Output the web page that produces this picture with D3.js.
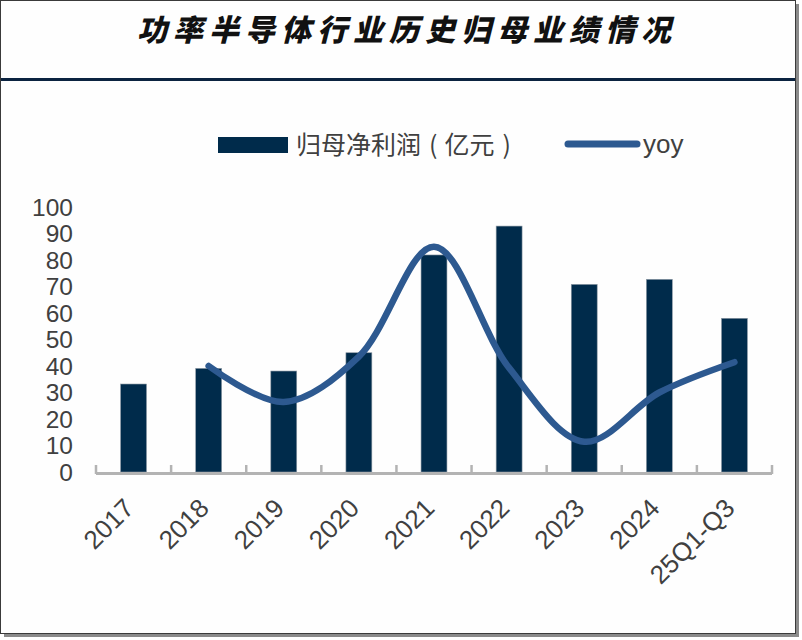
<!DOCTYPE html>
<html>
<head>
<meta charset="utf-8">
<script src="https://cdn.jsdelivr.net/npm/d3@7"></script>
<style>
    body { margin: 0; background: #ffffff; }
    svg { display: block; }
</style>
</head>
<body>
<svg id="chart"></svg>
<script>
// data
const categories = ["2017", "2018", "2019", "2020", "2021", "2022", "2023", "2024", "25Q1-Q3"];
const profit = [33.2, 39.1, 38.1, 45.0, 81.9, 92.8, 70.8, 72.7, 58.0]; // 归母净利润 (亿元)
const yoy = [null, 16, -3, 21, 79, 15, -24, 2, 18]; // yoy %, hidden right axis
const yTicks = [0, 10, 20, 30, 40, 50, 60, 70, 80, 90, 100];

const width = 802, height = 640;
const svg = d3.select("#chart")
    .attr("width", width)
    .attr("height", height);

// frame with a small drop shadow
svg.append("rect")
    .attr("x", 4).attr("y", 4)
    .attr("width", 795).attr("height", 633)
    .attr("fill", "#8a8a8a");
svg.append("rect")
    .attr("x", 0.5).attr("y", 0.5)
    .attr("width", 795).attr("height", 633)
    .attr("fill", "#fefefe")
    .attr("stroke", "#3a3a3a")
    .attr("stroke-width", 1);

// title
svg.append("text")
    .attr("x", 407)
    .attr("y", 41)
    .attr("text-anchor", "middle")
    .attr("font-family", "'Noto Sans CJK SC'")
    .attr("font-weight", "900")
    .attr("font-style", "italic")
    .attr("font-size", 30)
    .attr("letter-spacing", 6)
    .attr("fill", "#111")
    .text("功率半导体行业历史归母业绩情况");

svg.append("line")
    .attr("x1", 1).attr("x2", 795)
    .attr("y1", 79.5).attr("y2", 79.5)
    .attr("stroke", "#0b2340")
    .attr("stroke-width", 3);

// scales
const x = d3.scaleBand()
    .domain(categories)
    .range([96, 772])
    .paddingInner(0.655)
    .paddingOuter(0.3275);

const y = d3.scaleLinear().domain([0, 100]).range([472, 207]);
const y2 = d3.scaleLinear().domain([-40, 100]).range([472, 207]);

const textColor = "#404040";

// y axis labels (no axis line)
svg.append("g")
    .selectAll("text")
    .data(yTicks)
    .enter().append("text")
    .attr("x", 73)
    .attr("y", d => y(d))
    .attr("dy", "0.36em")
    .attr("text-anchor", "end")
    .attr("font-family", "'Liberation Sans', Arial")
    .attr("font-size", 24.5)
    .attr("fill", textColor)
    .text(d => d);

// bars
svg.append("g")
    .selectAll("rect")
    .data(profit)
    .enter().append("rect")
    .attr("x", (d, i) => x(categories[i]))
    .attr("y", d => y(d))
    .attr("width", x.bandwidth())
    .attr("height", d => y(0) - y(d))
    .attr("fill", "#002b4b")
    .attr("stroke", "#8c98a4")
    .attr("stroke-width", 0.6);

// x axis: line with upward ticks between categories
const step = x.step();
const axisG = svg.append("g").attr("class", "xaxis");
axisG.append("line")
    .attr("x1", 96).attr("x2", 772)
    .attr("y1", 473.5).attr("y2", 473.5)
    .attr("stroke", "#b3b3b3")
    .attr("stroke-width", 3);
const tickPos = d3.range(categories.length + 1).map(i => 96 + i * step);
axisG.selectAll("line.tick")
    .data(tickPos)
    .enter().append("line")
    .attr("class", "tick")
    .attr("x1", d => d).attr("x2", d => d)
    .attr("y1", 465).attr("y2", 474)
    .attr("stroke", "#b3b3b3")
    .attr("stroke-width", 2.5);

axisG.selectAll("text")
    .data(categories)
    .enter().append("text")
    .attr("transform", d => `translate(${x(d) + x.bandwidth() / 2 - 11}, ${497}) rotate(-45)`)
    .attr("text-anchor", "end")
    .attr("dy", "0.7em")
    .attr("font-family", "'Liberation Sans', Arial")
    .attr("font-size", 26)
    .attr("fill", textColor)
    .text(d => d);

// yoy line, smoothed
const line = d3.line()
    .defined(d => d.v != null)
    .x(d => x(d.c) + x.bandwidth() / 2)
    .y(d => y2(d.v))
    .curve(d3.curveCatmullRom);

svg.append("path")
    .datum(categories.map((c, i) => ({ c: c, v: yoy[i] })).filter(d => d.v != null))
    .attr("d", line)
    .attr("fill", "none")
    .attr("stroke", "#2d5990")
    .attr("stroke-width", 6.5)
    .attr("stroke-linecap", "round");

// legend
const legend = svg.append("g");
legend.append("rect")
    .attr("x", 218).attr("y", 137)
    .attr("width", 70).attr("height", 16)
    .attr("fill", "#002b4b");
const legText = legend.append("text")
    .attr("x", 296).attr("y", 145)
    .attr("dy", "0.36em")
    .attr("font-family", "'Noto Sans CJK SC'")
    .attr("font-size", 25)
    .attr("fill", textColor);
legText.append("tspan").text("归母净利润");
legText.append("tspan").attr("dx", 8).text("(");
legText.append("tspan").attr("dx", 7).text("亿元");
legText.append("tspan").attr("dx", 8).text(")");
legend.append("line")
    .attr("x1", 568).attr("x2", 637)
    .attr("y1", 144).attr("y2", 144)
    .attr("stroke", "#2d5990")
    .attr("stroke-width", 7)
    .attr("stroke-linecap", "round");
legend.append("text")
    .attr("x", 643).attr("y", 144)
    .attr("dy", "0.36em")
    .attr("font-family", "'Liberation Sans', Arial")
    .attr("font-size", 26)
    .attr("fill", textColor)
    .text("yoy");
</script>
</body>
</html>
